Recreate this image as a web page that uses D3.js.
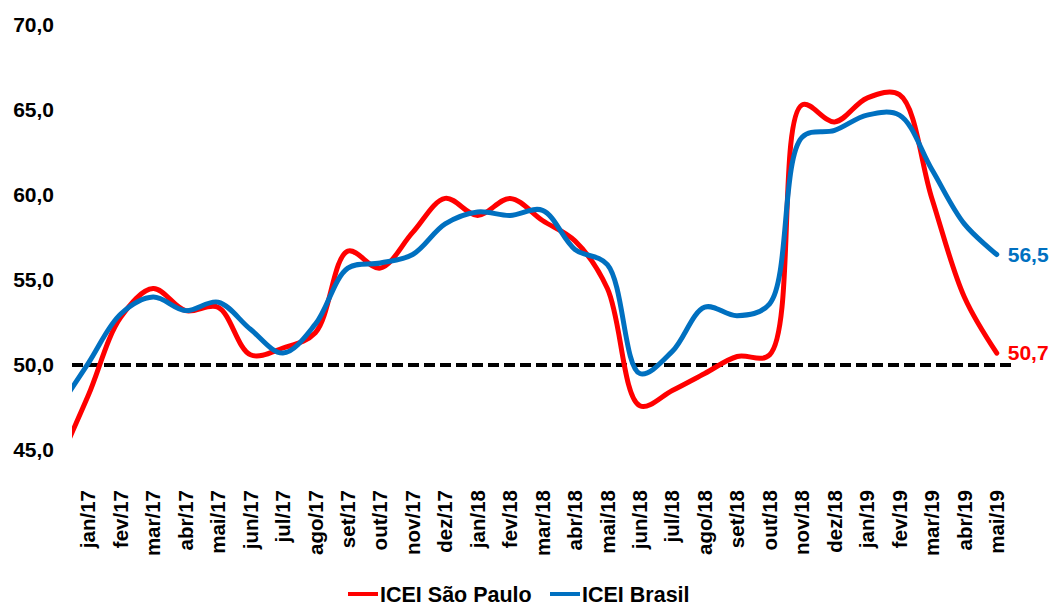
<!DOCTYPE html>
<html>
<head>
<meta charset="utf-8">
<script src="https://cdn.jsdelivr.net/npm/d3@7"></script>
<style>
  body { margin: 0; background: #fff; }
  svg text { font-family: "Liberation Sans", Arial, sans-serif; font-weight: bold; }
</style>
</head>
<body>
<svg id="chart" width="1051" height="606"></svg>
<script>
// first month (dez/16) lies left of the plot area and is clipped, like in the original
var months = ["dez/16",
  "jan/17", "fev/17", "mar/17", "abr/17", "mai/17", "jun/17", "jul/17", "ago/17", "set/17", "out/17", "nov/17", "dez/17",
  "jan/18", "fev/18", "mar/18", "abr/18", "mai/18", "jun/18", "jul/18", "ago/18", "set/18", "out/18", "nov/18", "dez/18",
  "jan/19", "fev/19", "mar/19", "abr/19", "mai/19"];

var iceiSaoPaulo = [43.9,
  48.2, 52.8, 54.5, 53.2, 53.4, 50.6, 51.0, 51.9, 56.7, 55.7, 57.8, 59.8,
  58.8, 59.8, 58.5, 57.3, 54.5, 47.6, 48.5, 49.5, 50.5, 50.6, 65.3, 64.3,
  65.7, 65.9, 59.8, 54.0, 50.7];

var iceiBrasil = [47.2,
  50.1, 53.0, 54.0, 53.2, 53.7, 52.1, 50.7, 52.4, 55.7, 56.0, 56.5, 58.3,
  59.0, 58.8, 59.1, 56.8, 55.9, 49.5, 50.8, 53.4, 52.9, 53.6, 63.4, 63.8,
  64.7, 64.7, 61.5, 58.3, 56.5];

var yTicks = [45, 50, 55, 60, 65, 70];
var divisa = 50;

var series = [
  { name: "ICEI São Paulo", color: "#ff0000", values: iceiSaoPaulo },
  { name: "ICEI Brasil", color: "#0070c0", values: iceiBrasil }
];

var svg = d3.select("#chart");
var plotLeft = 72, plotRight = 1013;
var band = (plotRight - plotLeft) / (months.length - 1);

var x = d3.scaleBand()
    .domain(months)
    .range([plotLeft - band, plotRight])
    .paddingInner(0).paddingOuter(0);

var y = d3.scaleLinear().domain([45, 70]).range([450, 25]);

function cx(m) { return x(m) + x.bandwidth() / 2; }

svg.append("defs").append("clipPath").attr("id", "plotClip")
  .append("rect")
    .attr("x", plotLeft).attr("y", 0)
    .attr("width", plotRight - plotLeft).attr("height", 470);

// y axis labels
var yAxis = svg.append("g")
    .attr("transform", "translate(54,0)")
    .call(d3.axisLeft(y).tickValues(yTicks).tickSize(0).tickPadding(0)
      .tickFormat(function(d) { return d3.format(".1f")(d).replace(".", ","); }));
yAxis.select(".domain").remove();
yAxis.selectAll("text").attr("font-size", 21).attr("fill", "#000")
    .style("font-family", null);

// x axis labels (rotated)
var xAxis = svg.append("g")
    .attr("transform", "translate(0,490)")
    .call(d3.axisBottom(x).tickValues(months.slice(1)).tickSize(0).tickPadding(0));
xAxis.select(".domain").remove();
xAxis.selectAll("text")
    .attr("font-size", 20.5).attr("fill", "#000")
    .style("font-family", null)
    .attr("transform", "rotate(-90)")
    .attr("text-anchor", "end")
    .attr("x", 0).attr("y", 0).attr("dy", "0.35em");

// 50 reference line
svg.append("line")
    .attr("x1", plotLeft).attr("x2", plotRight)
    .attr("y1", y(divisa)).attr("y2", y(divisa))
    .attr("stroke", "#000").attr("stroke-width", 4)
    .attr("stroke-dasharray", "11,5");

var line = d3.line()
    .curve(d3.curveCatmullRom.alpha(0.5))
    .x(function(d, i) { return cx(months[i]); })
    .y(function(d) { return y(d); });

var lines = svg.append("g").attr("clip-path", "url(#plotClip)");
series.forEach(function(s) {
  lines.append("path")
      .attr("d", line(s.values))
      .attr("fill", "none")
      .attr("stroke", s.color)
      .attr("stroke-width", 5)
      .attr("stroke-linecap", "round")
      .attr("stroke-linejoin", "round");
});

// end value labels
series.forEach(function(s) {
  var last = s.values.length - 1;
  svg.append("text")
      .attr("x", cx(months[last]) + 11)
      .attr("y", y(s.values[last]))
      .attr("dy", "0.35em")
      .attr("font-size", 21)
      .attr("fill", s.color)
      .text(d3.format(".1f")(s.values[last]).replace(".", ","));
});

// legend
var legendX = [348, 550];
series.forEach(function(s, i) {
  var lg = svg.append("g").attr("transform", "translate(" + legendX[i] + ",594)");
  lg.append("line").attr("x1", 0).attr("x2", 30).attr("y1", 0).attr("y2", 0)
      .attr("stroke", s.color).attr("stroke-width", 4);
  lg.append("text").attr("x", 32).attr("y", 7.5)
      .attr("font-size", 21.5).attr("fill", "#000")
      .text(s.name);
});
</script>
</body>
</html>
